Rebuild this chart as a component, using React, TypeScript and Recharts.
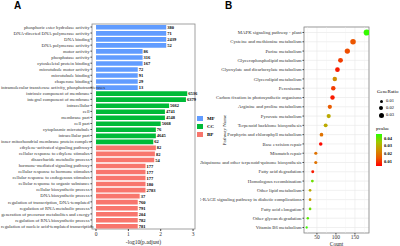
import React from 'react';
import * as R from 'recharts';
import { BarChart, Bar, XAxis, YAxis, Cell, LabelList, ScatterChart, Scatter, ZAxis, CartesianGrid, ReferenceLine } from 'recharts';

// ---------- Panel A data (GO enrichment) ----------
const goTerms = [
  'phosphoric ester hydrolase activity',
  'DNA-directed DNA polymerase activity',
  'DNA binding',
  'DNA polymerase activity',
  'motor activity',
  'phosphatase activity',
  'cytoskeletal protein binding',
  'microtubule motor activity',
  'microtubule binding',
  'chaperone binding',
  'intramolecular transferase activity, phosphotransferases',
  'intrinsic component of membrane',
  'integral component of membrane',
  'intracellular',
  'cell',
  'membrane part',
  'cell part',
  'cytoplasmic microtubule',
  'intracellular part',
  'inner mitochondrial membrane protein complex',
  'ethylene-activated signaling pathway',
  'cellular response to ethylene stimulus',
  'disaccharide metabolic process',
  'hormone-mediated signaling pathway',
  'cellular response to hormone stimulus',
  'cellular response to endogenous stimulus',
  'cellular response to organic substance',
  'cellular biosynthetic process',
  'DNA biosynthetic process',
  'regulation of transcription, DNA-templated',
  'regulation of RNA metabolic process',
  'generation of precursor metabolites and energy',
  'regulation of RNA biosynthetic process',
  'regulation of nucleic acid-templated transcription',
];
const goValues = [
  2.17, 2.17, 2.17, 2.17, 1.44, 1.44, 1.44, 1.29, 1.29, 1.29, 1.29,
  2.82, 2.78, 2.26, 2.13, 2.13, 2.0, 1.85, 1.85, 1.77,
  1.85, 1.82, 1.8, 1.53, 1.53, 1.53, 1.53, 1.53, 1.35, 1.29, 1.29, 1.29, 1.29, 1.29,
];
const goCounts = [
  380, 71, 2439, 52, 86, 316, 167, 72, 91, 29, 13,
  6536, 6379, 5662, 4741, 4548, 5668, 76, 4645, 62,
  82, 82, 54, 177, 177, 177, 180, 2783, 37, 760, 791, 204, 782, 781,
];
const goGroups = [
  'MF', 'MF', 'MF', 'MF', 'MF', 'MF', 'MF', 'MF', 'MF', 'MF', 'MF',
  'CC', 'CC', 'CC', 'CC', 'CC', 'CC', 'CC', 'CC', 'CC',
  'BP', 'BP', 'BP', 'BP', 'BP', 'BP', 'BP', 'BP', 'BP', 'BP', 'BP', 'BP', 'BP', 'BP',
];
const groupNames = ['MF', 'CC', 'BP'];
const groupColors: Record<string, string> = { MF: '#619CFF', CC: '#00BA38', BP: '#F8766D' };
const goTicks = [0, 1, 2, 3];

// ---------- Panel B data (KEGG enrichment) ----------
const keggPathways = [
  'MAPK signaling pathway - plant',
  'Cysteine and methionine metabolism',
  'Purine metabolism',
  'Glycerophospholipid metabolism',
  'Glyoxylate and dicarboxylate metabolism',
  'Glycerolipid metabolism',
  'Peroxisome',
  'Carbon fixation in photosynthetic organisms',
  'Arginine and proline metabolism',
  'Pyruvate metabolism',
  'Terpenoid backbone biosynthesis',
  'Porphyrin and chlorophyll metabolism',
  'Base excision repair',
  'Mismatch repair',
  'Ubiquinone and other terpenoid-quinone biosynthesis',
  'Fatty acid degradation',
  'Homologous recombination',
  'Other lipid metabolism',
  'AGE-RAGE signaling pathway in diabetic complications',
  'Fatty acid elongation',
  'Other glycan degradation',
  'Vitamin B6 metabolism',
];
const keggCounts = [181, 145, 130, 112, 104, 97, 93, 91, 84, 81, 73, 62, 60, 47, 47, 39, 38, 32, 32, 32, 26, 23];
const keggRatios = [0.04, 0.032, 0.029, 0.025, 0.023, 0.021, 0.021, 0.02, 0.019, 0.018, 0.016, 0.014, 0.013, 0.01, 0.01, 0.009, 0.008, 0.007, 0.007, 0.007, 0.006, 0.005];
const keggPvalues = [0.045, 0.015, 0.014, 0.012, 0.008, 0.025, 0.012, 0.008, 0.016, 0.03, 0.03, 0.02, 0.006, 0.02, 0.02, 0.008, 0.04, 0.03, 0.027, 0.04, 0.042, 0.044];
const countTicks = [50, 100, 150];
const countMinor = [25, 75, 125, 175];
const ratioBreaks = [0.01, 0.02, 0.03];
const pBreaks = [0.04, 0.03, 0.02, 0.01];

const goData = goTerms.map((term, i) => ({ term, value: goValues[i], count: goCounts[i], group: goGroups[i] }));
const keggData = keggPathways.map((pathway, i) => ({ pathway, count: keggCounts[i], ratio: keggRatios[i], p: keggPvalues[i] }));

const SERIF = '"Liberation Serif", "DejaVu Serif", serif';
const SANS = '"Liberation Sans", Arial, sans-serif';

const P_MIN = 0.005;
const P_MAX = 0.046;
const pStops = [
  [255, 0, 0],
  [236, 88, 0],
  [208, 144, 0],
  [160, 200, 0],
  [40, 255, 0],
];
function pColor(p: number) {
  let t = (p - P_MIN) / (P_MAX - P_MIN);
  t = Math.max(0, Math.min(1, t));
  const s = t * (pStops.length - 1);
  const i = Math.min(pStops.length - 2, Math.floor(s));
  const f = s - i;
  const c = pStops[i].map((v, k) => Math.round(v + (pStops[i + 1][k] - v) * f));
  return `rgb(${c[0]},${c[1]},${c[2]})`;
}
const gradientCss = `linear-gradient(to top, ${pStops.map((c) => `rgb(${c[0]},${c[1]},${c[2]})`).join(', ')})`;

let measureCtx: CanvasRenderingContext2D | null = null;
function textWidth(text: string, fontSize: number) {
  if (typeof document === 'undefined') return 0;
  if (!measureCtx) measureCtx = document.createElement('canvas').getContext('2d');
  if (!measureCtx) return 0;
  measureCtx.font = `${fontSize}px "Liberation Serif"`;
  return measureCtx.measureText(text).width;
}

function PlotBorder({ stroke }: { stroke: string }) {
  const usePA = (R as any).usePlotArea;
  const area = usePA ? usePA() : null;
  if (!area) return null;
  return <rect x={area.x} y={area.y} width={area.width} height={area.height} fill="none" stroke={stroke} strokeWidth={0.8} />;
}

// GO labels: right-aligned, but overly long ones start at the left edge and spill over
function GoTick(props: any) {
  const { x, y, payload } = props;
  const fs = 4.7;
  const w = textWidth(String(payload.value), fs);
  const endX = Math.max(x, 1 + w);
  return (
    <text x={endX} y={y} dy="0.35em" textAnchor="end" fontSize={fs} fontFamily={SERIF} fill="#333">
      {payload.value}
    </text>
  );
}

function KeggTick(props: any) {
  const { x, y, payload } = props;
  return (
    <text x={x} y={y} dy="0.35em" textAnchor="end" fontSize={4.8} fontFamily={SERIF} fill="#333">
      {payload.value}
    </text>
  );
}

export default function App() {
  return (
    <div style={{ position: 'fixed', left: 0, top: 0, width: 400, height: 246, background: '#fff', overflow: 'hidden' }}>
      <div style={{ position: 'absolute', left: 14, top: 0, fontFamily: SANS, fontWeight: 'bold', fontSize: 10 }}>A</div>
      <div style={{ position: 'absolute', left: 225, top: 0, fontFamily: SANS, fontWeight: 'bold', fontSize: 10 }}>B</div>

      <div style={{ position: 'absolute', left: 0, top: 0 }}>
        <BarChart width={200} height={246} layout="vertical" data={goData} margin={{ top: 24, right: 5, bottom: 0, left: 0 }}>
          <XAxis
            type="number"
            dataKey="value"
            domain={[-0.124, 3.06]}
            ticks={goTicks}
            allowDataOverflow
            height={17}
            tickSize={2}
            tickMargin={1}
            axisLine={false}
            stroke="#444"
            tick={{ fontSize: 5.5, fill: '#333', fontFamily: SERIF }}
            label={{ value: '-log10(p.adjust)', position: 'insideBottom', offset: 2, fontSize: 5.5, fill: '#222', fontFamily: SERIF }}
          />
          <YAxis
            type="category"
            dataKey="term"
            width={92}
            interval={0}
            tickSize={1.5}
            tickMargin={1}
            axisLine={false}
            stroke="#444"
            tick={<GoTick />}
          />
          <Bar dataKey="value" barSize={4.6} isAnimationActive={false}>
            {goData.map((d, i) => (
              <Cell key={i} fill={groupColors[d.group]} />
            ))}
            <LabelList dataKey="count" position="right" offset={1} style={{ fontSize: 4.5, fontWeight: 'bold', fill: '#000', fontFamily: SERIF }} />
          </Bar>
          <PlotBorder stroke="#8a8a8a" />
        </BarChart>
      </div>

      <div style={{ position: 'absolute', left: 200, top: 0 }}>
        <ScatterChart width={200} height={246} margin={{ top: 27, right: 31, bottom: 0, left: 0 }}>
          <CartesianGrid stroke="#e6e6e6" strokeWidth={0.6} />
          {countMinor.map((v) => (
            <ReferenceLine key={v} x={v} stroke="#f2f2f2" strokeWidth={0.4} />
          ))}
          <XAxis
            type="number"
            dataKey="count"
            domain={[16, 187]}
            ticks={countTicks}
            allowDataOverflow
            height={13}
            tickSize={1.5}
            tickMargin={0.5}
            axisLine={false}
            stroke="#444"
            tick={{ fontSize: 5.5, fill: '#333', fontFamily: SERIF }}
            label={{ value: 'Count', position: 'insideBottom', offset: 0, fontSize: 5.5, fill: '#222', fontFamily: SERIF }}
          />
          <YAxis
            type="category"
            dataKey="pathway"
            width={104}
            scale="point"
            padding={{ top: 5.5, bottom: 5.5 }}
            reversed
            interval={0}
            tickSize={1.5}
            tickMargin={1}
            axisLine={false}
            stroke="#444"
            tick={<KeggTick />}
            label={{ value: 'Pathway Name', angle: -90, position: 'insideLeft', offset: 24, fontSize: 5, fill: '#222', fontFamily: SERIF, style: { textAnchor: 'middle' } }}
          />
          <ZAxis type="number" dataKey="ratio" domain={[0.005, 0.04]} range={[4, 30]} />
          <Scatter data={keggData} isAnimationActive={false}>
            {keggData.map((d, i) => (
              <Cell key={i} fill={pColor(d.p)} />
            ))}
          </Scatter>
          <PlotBorder stroke="#8a8a8a" />
        </ScatterChart>
      </div>

      {/* Panel A legend */}
      {groupNames.map((g, i) => (
        <div key={g} style={{ position: 'absolute', left: 197, top: 115.5 + i * 8, display: 'flex', alignItems: 'center', fontFamily: SERIF, fontSize: 5, fontWeight: 'bold', lineHeight: '5px' }}>
          <div style={{ width: 6, height: 5, background: groupColors[g], marginRight: 4 }} />
          <span>{g}</span>
        </div>
      ))}

      {/* Panel B legends */}
      <div style={{ position: 'absolute', left: 377, top: 89, fontFamily: SERIF, fontSize: 5, lineHeight: '6px' }}>GeneRatio</div>
      {ratioBreaks.map((r, i) => {
        const d = 3 + i * 1;
        return (
          <div key={r} style={{ position: 'absolute', left: 377, top: 98 + i * 7, width: 8, height: 6, display: 'flex', alignItems: 'center', justifyContent: 'center' }}>
            <div style={{ width: d, height: d, borderRadius: '50%', background: '#000' }} />
            <span style={{ position: 'absolute', left: 9, top: 0, fontFamily: SERIF, fontSize: 4.5, lineHeight: '6px' }}>{r.toFixed(2)}</span>
          </div>
        );
      })}
      <div style={{ position: 'absolute', left: 376, top: 126, fontFamily: SERIF, fontSize: 5, lineHeight: '6px' }}>pvalue</div>
      <div style={{ position: 'absolute', left: 376, top: 134, width: 6, height: 32, background: gradientCss }} />
      {pBreaks.map((p) => (
        <div key={p} style={{ position: 'absolute', left: 384, top: 134 + ((P_MAX - p) / (P_MAX - P_MIN)) * 32 - 3, fontFamily: SERIF, fontSize: 4.5, fontWeight: 'bold', lineHeight: '6px' }}>
          {p.toFixed(2)}
        </div>
      ))}
    </div>
  );
}
